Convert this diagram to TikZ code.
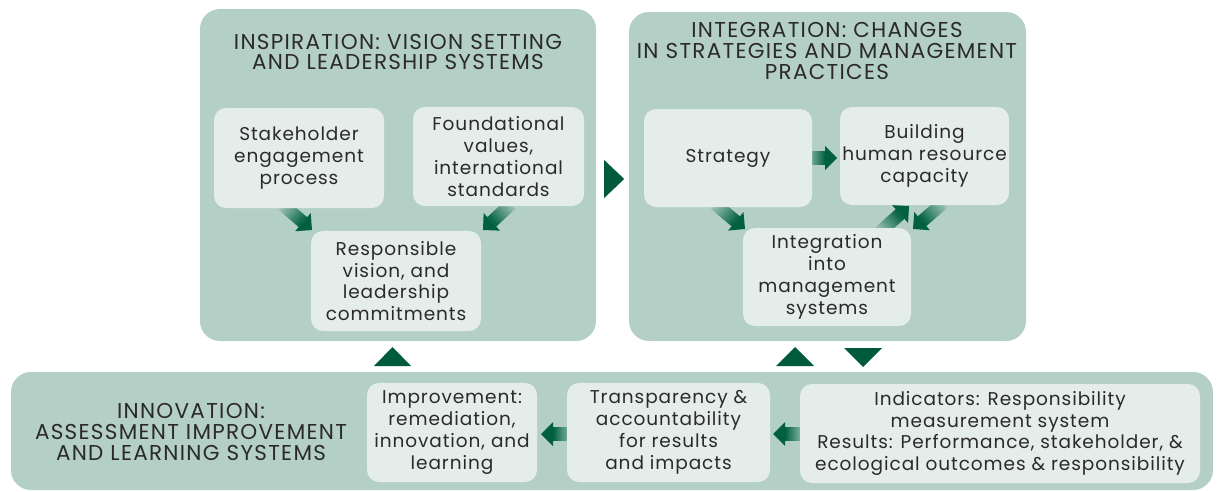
\documentclass[tikz,border=0pt]{standalone}
\usepackage{fontspec}
\setmainfont{Poppins}
\newfontfamily\boxfont{Poppins}[LetterSpace=5]
\newfontfamily\titlefont{Poppins}[LetterSpace=6]
\usetikzlibrary{calc}
\definecolor{bgc}{HTML}{B4D0C6}
\definecolor{boxc}{HTML}{E4EDEA}
\definecolor{txt}{HTML}{2B2A29}
\definecolor{adark}{HTML}{00603F}
\definecolor{alight}{HTML}{9DC3B5}
\definecolor{tri}{HTML}{005A3C}
\newdimen\fadx \newdimen\fady
\newcommand\fatarrow[2]{%
  \pgfextractx{\fadx}{\pgfpointdiff{\pgfpointanchor{#1}{center}}{\pgfpointanchor{#2}{center}}}%
  \pgfextracty{\fady}{\pgfpointdiff{\pgfpointanchor{#1}{center}}{\pgfpointanchor{#2}{center}}}%
  \pgfmathsetmacro\faang{atan2(\fady,\fadx)}%
  \pgfmathsetmacro\falen{veclen(\fadx,\fady)}%
  \pgfmathsetmacro\fab{\falen-12}%
  \begin{scope}[transform canvas={shift={(#1)},rotate=\faang}]
    \shade[left color=alight,right color=adark] (0pt,-6.5pt) -- (\fab pt,-6.5pt) -- (\fab pt,6.5pt) -- (0pt,6.5pt) -- cycle;
    \fill[adark] (\fab pt,-12pt) -- (\falen pt,0pt) -- (\fab pt,12pt) -- cycle;
  \end{scope}}
\tikzset{
  outerbox/.style={fill=bgc, rounded corners=20pt, inner sep=0pt},
  inbox/.style={fill=boxc, rounded corners=12pt, inner sep=0pt, align=center, text=txt,
    font=\boxfont\fontsize{18.5}{21.8}\selectfont},
  titletext/.style={align=center, text=txt, inner sep=0pt, font=\titlefont\fontsize{21.5}{20.8}\selectfont},
  marker/.style={fill=tri},
}
\begin{document}
\begin{tikzpicture}[x=1pt,y=-1pt]
\useasboundingbox (0,0) rectangle (1217,491);
% outer panels
\node[outerbox, minimum width=396pt, minimum height=332pt] (insp) at (398,175) {};
\node[outerbox, minimum width=397pt, minimum height=329pt] (integ) at (827.5,176.5) {};
\node[outerbox, minimum width=1202pt, minimum height=118pt] (innov) at (612,431) {};
% titles
\node[titletext] (insptitle) at (398,52) {INSPIRATION: VISION SETTING\\AND LEADERSHIP SYSTEMS};
\node[titletext] (integtitle) at (827,51) {INTEGRATION: CHANGES\\IN STRATEGIES AND MANAGEMENT\\PRACTICES};
\node[titletext] (innovtitle) at (191,432) {INNOVATION:\\ASSESSMENT IMPROVEMENT\\AND LEARNING SYSTEMS};
% arrow end points
\coordinate (a1t) at (283,205); \coordinate (a1h) at (312,230);
\coordinate (a2t) at (511,204); \coordinate (a2h) at (483,230);
\coordinate (a3t) at (806,158); \coordinate (a3h) at (837,158);
\coordinate (a4t) at (715,204); \coordinate (a4h) at (745,229);
\coordinate (a5t) at (880,232); \coordinate (a5h) at (909,206);
\coordinate (a6t) at (943,203); \coordinate (a6h) at (913,229);
\coordinate (a7t) at (572,434); \coordinate (a7h) at (541,434);
\coordinate (a8t) at (804,434); \coordinate (a8h) at (773,434);
\fatarrow{a1t}{a1h}
\fatarrow{a2t}{a2h}
\fatarrow{a3t}{a3h}
\fatarrow{a4t}{a4h}
\fatarrow{a5t}{a5h}
\fatarrow{a6t}{a6h}
\fatarrow{a7t}{a7h}
\fatarrow{a8t}{a8h}
% inner boxes
\node[inbox, minimum width=170pt, minimum height=100pt] (stake) at (299,158) {Stakeholder\\engagement\\process};
\node[inbox, minimum width=171pt, minimum height=99pt] (found) at (498.5,156.5) {Foundational\\values,\\international\\standards};
\node[inbox, minimum width=170pt, minimum height=100pt] (resp) at (396,281) {Responsible\\vision, and\\leadership\\commitments};
\node[inbox, minimum width=168pt, minimum height=98pt] (strat) at (728,158) {Strategy};
\node[inbox, minimum width=169pt, minimum height=98pt] (build) at (924.5,156) {Building\\human resource\\capacity};
\node[inbox, minimum width=168pt, minimum height=98pt] (intg) at (827,277) {Integration\\into\\management\\systems};
\node[inbox, minimum width=170pt, minimum height=99pt] (impr) at (452,432.5) {Improvement:\\remediation,\\innovation, and\\learning};
\node[inbox, minimum width=203pt, minimum height=99pt] (transp) at (668.5,432.5) {Transparency \&\\accountability\\for results\\and impacts};
\node[inbox, minimum width=400pt, minimum height=99pt] (indic) at (1000,433.5) {Indicators: Responsibility\\measurement system\\Results: Performance, stakeholder, \&\\ecological outcomes \& responsibility};
% flow markers between panels
\fill[marker] ($(insp.east)+(8,-15)$) -- ($(insp.east)+(8,23)$) -- ($(insp.east)+(28,4)$) -- cycle;
\fill[marker] (374,366) -- (411,366) -- (392.5,347) -- cycle;
\fill[marker] (776,366) -- (814,366) -- (795,347) -- cycle;
\fill[marker] (844,348) -- (882,348) -- (863,367) -- cycle;
\end{tikzpicture}
\end{document}
